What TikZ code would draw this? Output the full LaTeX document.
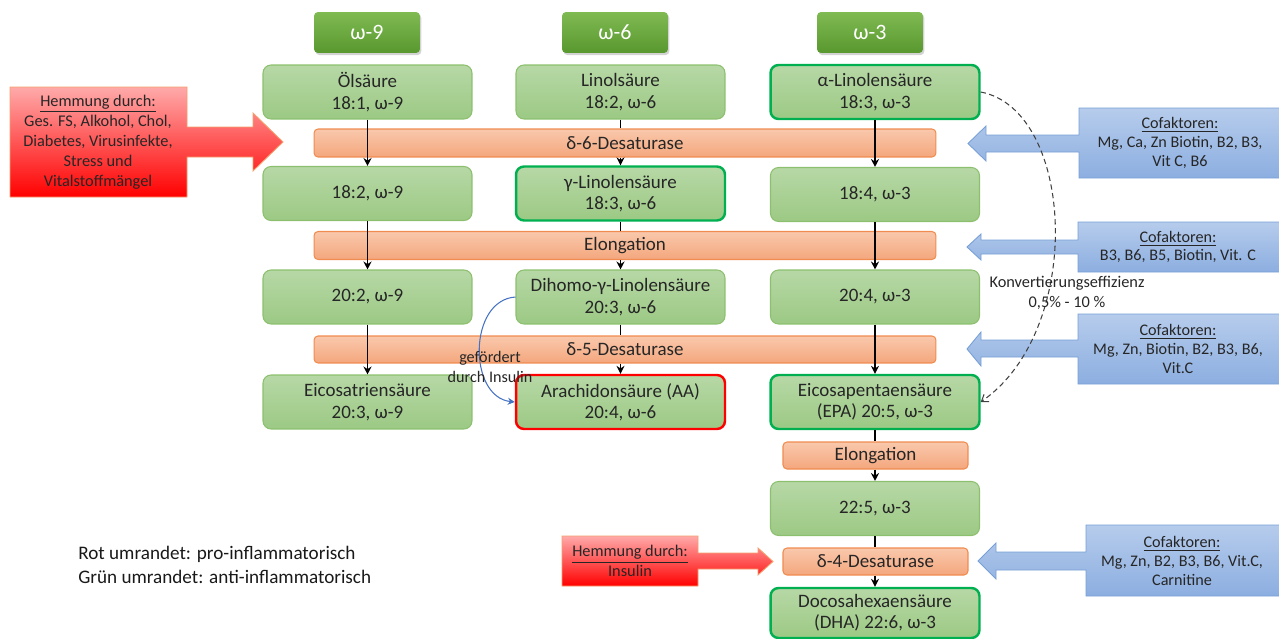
\documentclass[tikz,border=0pt]{standalone}
\usepackage{fontspec}
\setmainfont{Carlito}
\usetikzlibrary{arrows.meta,shadows}
\definecolor{fatop}{RGB}{183,216,166}
\definecolor{fabot}{RGB}{156,201,132}
\definecolor{fabd}{RGB}{140,192,110}
\definecolor{goodgreen}{RGB}{0,176,80}
\definecolor{hdtop}{RGB}{128,186,82}
\definecolor{hdbot}{RGB}{88,152,46}
\definecolor{entop}{RGB}{249,200,172}
\definecolor{enbot}{RGB}{244,167,125}
\definecolor{enbd}{RGB}{240,140,80}
\definecolor{rdtop}{RGB}{255,170,170}
\definecolor{rdbot}{RGB}{255,0,0}
\definecolor{rdbd}{RGB}{244,160,110}
\definecolor{bltop}{RGB}{182,204,236}
\definecolor{blbot}{RGB}{140,174,224}
\definecolor{blbd}{RGB}{120,160,214}
\definecolor{insblue}{RGB}{68,114,196}
\tikzset{
  fa/.style={draw=fabd, line width=0.6pt, rounded corners=0.16cm, top color=fatop, bottom color=fabot,
    minimum width=4.18cm, minimum height=1.08cm, inner sep=0pt, align=center, text=black!85,
    font=\fontsize{10.8}{12.2}\selectfont},
  good/.style={draw=goodgreen, line width=1.4pt},
  bad/.style={draw=red, line width=1.4pt},
  hdr/.style={rounded corners=0.08cm, top color=hdtop, bottom color=hdbot, minimum width=2.12cm,
    minimum height=0.82cm, inner sep=0pt, text=white, font=\fontsize{12.5}{14}\selectfont,
    drop shadow={shadow xshift=0.8pt, shadow yshift=-1.2pt, opacity=0.35}},
  enz/.style={draw=enbd, line width=0.6pt, rounded corners=0.08cm, top color=entop, bottom color=enbot,
    minimum height=0.56cm, inner sep=0pt, text=black!85, font=\fontsize{10.8}{12.2}\selectfont},
  longbar/.style={enz, minimum width=12.44cm},
  shortbar/.style={enz, minimum width=3.7cm, minimum height=0.54cm},
  conn/.style={line width=0.8pt, -{Stealth[length=4.5pt,width=4.5pt]}},
  seg/.style={line width=0.8pt},
  redcall/.style={top color=rdtop, bottom color=rdbot, draw=rdbd, line width=0.5pt},
  bluecall/.style={top color=bltop, bottom color=blbot, draw=blbd, line width=0.5pt},
  calltext/.style={align=center, text=black!85, font=\fontsize{9.3}{11.4}\selectfont},
  coftext/.style={align=center, text=black!85, font=\fontsize{9.2}{10.6}\selectfont},
}
\begin{document}
\begin{tikzpicture}[x=0.02cm,y=-0.02cm]
\useasboundingbox (0,0) rectangle (1279,639);

% headers
\node[hdr] (h9) at (367,32.5) {ω-9};
\node[hdr] (h6) at (615,32.5) {ω-6};
\node[hdr] (h3) at (870,32.5) {ω-3};

% callouts (drawn first)
\shadedraw[redcall] (10,87) -- (187,87) -- (187,127) -- (253,127) -- (253,113) -- (283,142)
  -- (253,171) -- (253,157) -- (187,157) -- (187,197) -- (10,197) -- cycle;
\node[calltext] (inh1) at (98,142) {\underline{Hemmung durch:}\\Ges. FS, Alkohol, Chol,\\Diabetes, Virusinfekte,\\Stress und\\Vitalstoffmängel};

\shadedraw[redcall] (562,536) -- (698,536) -- (698,553) -- (758,553) -- (758,548) -- (773,561.5)
  -- (758,575) -- (758,569) -- (698,569) -- (698,586) -- (562,586) -- cycle;
\node[calltext] (inh2) at (630,561) {\underline{Hemmung durch:}\\Insulin};

\shadedraw[bluecall] (1280,108) -- (1079,108) -- (1079,135) -- (986,135) -- (986,126) -- (968,143.5)
  -- (986,161) -- (986,152) -- (1079,152) -- (1079,178) -- (1280,178) -- cycle;
\node[coftext] (cf1) at (1180,143) {\underline{Cofaktoren:}\\Mg, Ca, Zn Biotin, B2, B3,\\Vit C, B6};

\shadedraw[bluecall] (1280,222) -- (1078,222) -- (1078,240) -- (981,240) -- (981,234) -- (967,247)
  -- (981,260) -- (981,254) -- (1078,254) -- (1078,272) -- (1280,272) -- cycle;
\node[coftext] (cf2) at (1178,247) {\underline{Cofaktoren:}\\B3, B6, B5, Biotin, Vit. C};

\shadedraw[bluecall] (1280,314) -- (1078,314) -- (1078,340) -- (981,340) -- (981,332) -- (967,349)
  -- (981,366) -- (981,357) -- (1078,357) -- (1078,384) -- (1280,384) -- cycle;
\node[coftext] (cf3) at (1178,349) {\underline{Cofaktoren:}\\Mg, Zn, Biotin, B2, B3, B6,\\Vit.C};

\shadedraw[bluecall] (1280,525) -- (1086,525) -- (1086,552) -- (996,552) -- (996,543) -- (978,561)
  -- (996,579) -- (996,570) -- (1086,570) -- (1086,596) -- (1280,596) -- cycle;
\node[coftext] (cf4) at (1182,561) {\underline{Cofaktoren:}\\Mg, Zn, B2, B3, B6, Vit.C,\\Carnitine};

% fatty acid boxes
\node[fa] (a9) at (367.5,92) {Ölsäure\\18:1, ω-9};
\node[fa] (a6) at (620.5,92) {Linolsäure\\18:2, ω-6};
\node[fa,good] (a3) at (875,92) {α-Linolensäure\\18:3, ω-3};

\node[fa] (b9) at (367.5,193.5) {18:2, ω-9};
\node[fa,good] (b6) at (620.5,193.5) {γ-Linolensäure\\18:3, ω-6};
\node[fa] (b3) at (875,194.5) {18:4, ω-3};

\node[fa] (c9) at (367.5,297) {20:2, ω-9};
\node[fa] (c6) at (620.5,297) {Dihomo-γ-Linolensäure\\20:3, ω-6};
\node[fa] (c3) at (875,297) {20:4, ω-3};

\node[fa] (d9) at (367.5,402) {Eicosatriensäure\\20:3, ω-9};
\node[fa,bad] (d6) at (620.5,402) {Arachidonsäure (AA)\\20:4, ω-6};
\node[fa,good] (d3) at (875,402) {Eicosapentaensäure\\(EPA) 20:5, ω-3};

\node[fa] (e3) at (875,508.5) {22:5, ω-3};
\node[fa,good,minimum height=1.0cm] (f3) at (875,613) {Docosahexaensäure\\(DHA) 22:6, ω-3};

% enzyme bars
\node[longbar] (d6des) at (625,143) {δ-6-Desaturase};
\node[longbar] (elo) at (625,245.5) {Elongation};
\node[longbar,minimum height=0.54cm] (d5des) at (625,349.5) {δ-5-Desaturase};
\node[shortbar] (elo2) at (875.5,455.5) {Elongation};
\node[shortbar] (d4des) at (875.5,561.5) {δ-4-Desaturase};

% connectors omega-9 and omega-3 (through bars)
\draw[conn] (a9.south) -- (b9.north);
\draw[conn] (b9.south) -- (c9.north);
\draw[conn] (c9.south) -- (d9.north);
\draw[conn] (a3.south) -- (b3.north);
\draw[conn] (b3.south) -- (c3.north);
\draw[conn] (c3.south) -- (d3.north);

% omega-6 (stop at bars)
\draw[seg] (a6.south) -- (a6.south |- d6des.north);
\draw[conn] (a6.south |- d6des.south) -- (b6.north);
\draw[seg] (b6.south) -- (b6.south |- elo.north);
\draw[conn] (b6.south |- elo.south) -- (c6.north);
\draw[seg] (c6.south) -- (c6.south |- d5des.north);
\draw[conn] (c6.south |- d5des.south) -- (d6.north);

% omega-3 lower part
\draw[seg] (d3.south) -- (elo2.north -| d3.south);
\draw[conn] (elo2.south -| d3.south) -- (e3.north);
\draw[seg] (e3.south) -- (d4des.north -| e3.south);
\draw[conn] (d4des.south -| e3.south) -- (f3.north);

% conversion efficiency
\draw[dashed, dash pattern=on 3pt off 2pt, line width=0.6pt, black!75, -{Straight Barb[length=3.5pt,width=5pt]}]
  (a3.east) .. controls (1075,110) and (1085,330) .. (d3.east);
\node[align=center, text=black!85, font=\fontsize{9.3}{11}\selectfont] (konv) at (1067,293) {Konvertierungseffizienz\\0,5\% - 10 \%};

% insulin
\draw[insblue, line width=0.6pt, -{Stealth[length=4pt,width=4pt]}]
  (c6.west) .. controls (468,300) and (468,397) .. (d6.west);
\node[align=center, text=black!85, font=\fontsize{9.2}{11.4}\selectfont] (ins) at (490,367) {gefördert\\durch Insulin};

% legend
\node[anchor=west, inner sep=0pt, align=left, text=black!90, font=\fontsize{10.9}{13.6}\selectfont] (leg) at (78,565)
  {Rot umrandet: pro-inflammatorisch\\Grün umrandet: anti-inflammatorisch};
\end{tikzpicture}
\end{document}
